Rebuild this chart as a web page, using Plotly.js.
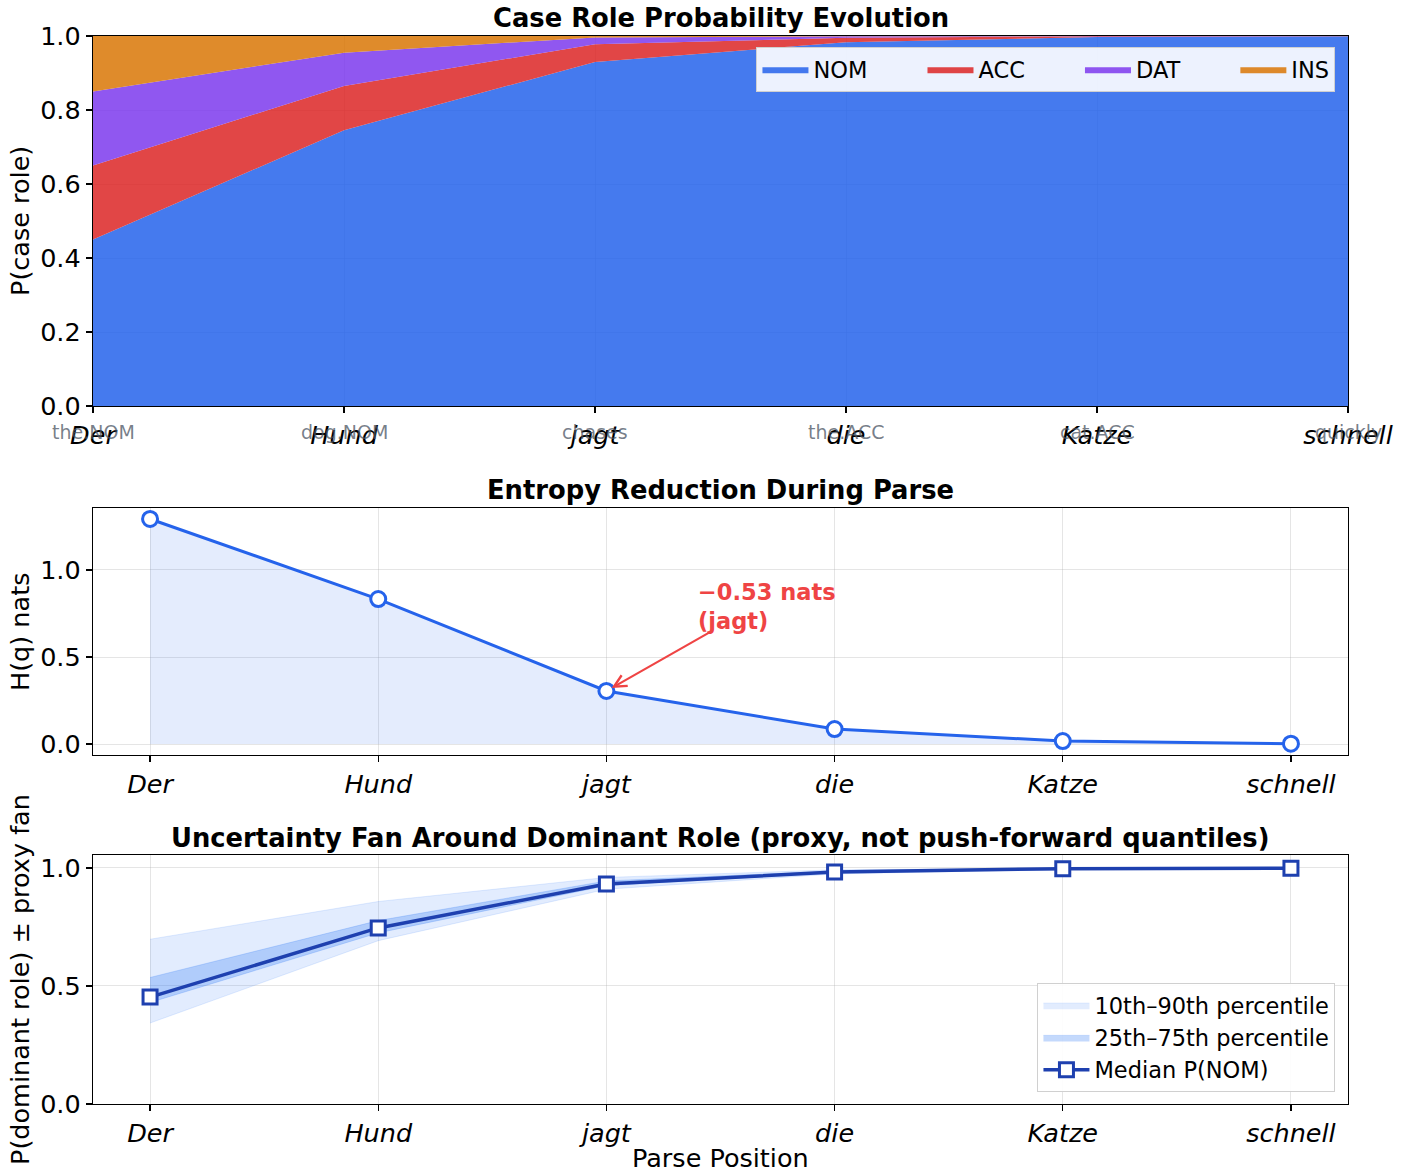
<!DOCTYPE html>
<html>
<head>
<meta charset="utf-8">
<script src="https://cdn.plot.ly/plotly-3.0.1.min.js"></script>
<style>html,body{margin:0;padding:0;background:#fff;}#chart{width:1413px;height:1173px;}</style>
</head>
<body>
<div id="chart"></div>
<script>
// ---- data ----
const words = ["Der", "Hund", "jagt", "die", "Katze", "schnell"];
const glosses = ["the.NOM", "dog.NOM", "chases", "the.ACC", "cat.ACC", "quickly"];
const positions = [0, 1, 2, 3, 4, 5];
const roles = ["NOM", "ACC", "DAT", "INS"];

const pNOM = [0.45, 0.745, 0.93, 0.983, 0.997, 0.999];
const pACC = [0.20, 0.12, 0.048, 0.012, 0.002, 0.0007];
const pDAT = [0.20, 0.09, 0.018, 0.004, 0.0008, 0.0002];
const pINS = [0.15, 0.045, 0.004, 0.001, 0.0002, 0.0001];

const entropy = [1.293, 0.833, 0.305, 0.086, 0.017, 0.002];

const fanMedian = [0.453, 0.746, 0.932, 0.983, 0.997, 0.999];
const fanP10 = [0.343, 0.692, 0.910, 0.975, 0.994, 0.998];
const fanP25 = [0.430, 0.725, 0.925, 0.980, 0.996, 0.9985];
const fanP75 = [0.536, 0.777, 0.945, 0.987, 0.998, 0.9995];
const fanP90 = [0.698, 0.858, 0.960, 0.992, 0.999, 1.0];

const annText = "−0.53 nats<br>(jagt)";

// ---- style ----
const FONT = "DejaVu Sans";
const TICK = 25.5;
const italicWords = words.map(w => "<i>" + w + "</i>");
const gridTop = "rgba(205,205,205,0.55)";
const grid = "rgba(176,176,176,0.33)";
const roleFill = ["rgba(37,99,235,0.85)", "rgba(220,38,38,0.85)", "rgba(124,58,237,0.85)", "rgba(217,119,6,0.85)"];
const roleVals = [pNOM, pACC, pDAT, pINS];
const colPad = "\u00a0".repeat(7); // legend column spacing

const traces = [];
roles.forEach((r, i) => traces.push({x: positions, y: roleVals[i],
  name: i < roles.length - 1 ? r + colPad : r, type: "scatter", mode: "lines",
  stackgroup: "one", line: {width: 0}, fillcolor: roleFill[i], xaxis: "x", yaxis: "y", legend: "legend"}));

traces.push(
  {x: positions, y: entropy, name: "H", type: "scatter", mode: "lines+markers", fill: "tozeroy",
   fillcolor: "rgba(37,99,235,0.12)", line: {color: "#2563eb", width: 3},
   marker: {symbol: "circle", size: 15, color: "#ffffff", line: {color: "#2563eb", width: 3}},
   xaxis: "x2", yaxis: "y2", showlegend: false},

  {x: positions, y: fanP10, type: "scatter", mode: "lines", line: {width: 0.8, color: "rgba(59,130,246,0.18)"},
   xaxis: "x3", yaxis: "y3", showlegend: false, hoverinfo: "skip"},
  {x: positions, y: fanP90, name: "10th–90th percentile", type: "scatter", mode: "lines", fill: "tonexty",
   fillcolor: "rgba(59,130,246,0.15)", line: {width: 0.8, color: "rgba(59,130,246,0.18)"},
   xaxis: "x3", yaxis: "y3", legend: "legend2"},
  {x: positions, y: fanP25, type: "scatter", mode: "lines", line: {width: 0.8, color: "rgba(59,130,246,0.3)"},
   xaxis: "x3", yaxis: "y3", showlegend: false, hoverinfo: "skip"},
  {x: positions, y: fanP75, name: "25th–75th percentile", type: "scatter", mode: "lines", fill: "tonexty",
   fillcolor: "rgba(59,130,246,0.3)", line: {width: 0.8, color: "rgba(59,130,246,0.3)"},
   xaxis: "x3", yaxis: "y3", legend: "legend2"},
  {x: positions, y: fanMedian, name: "Median P(NOM)", type: "scatter", mode: "lines+markers",
   line: {color: "#1e40af", width: 3.5},
   marker: {symbol: "square", size: 14, color: "#ffffff", line: {color: "#1e40af", width: 3}},
   xaxis: "x3", yaxis: "y3", legend: "legend2"}
);

const H = 1173;
function dom(top, bottom) { return [1 - bottom / H, 1 - top / H]; }

const axisCommon = {
  showline: true, mirror: true, linecolor: "#000", linewidth: 1.2,
  ticks: "outside", ticklen: 6, tickwidth: 1.2, tickcolor: "#000",
  tickfont: {family: FONT, size: TICK, color: "#000"}, zeroline: false
};

const annotations = [];
// titles
const titles = [["Case Role Probability Evolution", 18],
                ["Entropy Reduction During Parse", 490],
                ["Uncertainty Fan Around Dominant Role (proxy, not push-forward quantiles)", 838]];
titles.forEach(([t, yc]) => annotations.push({text: "<b>" + t + "</b>", xref: "paper", yref: "paper",
  x: 0.5, y: 1 - yc / H, xanchor: "center", yanchor: "middle", showarrow: false,
  font: {family: FONT, size: 25.8, color: "#000"}}));
// y axis titles
const ytitles = [["P(case role)", 221], ["H(q) nats", 632], ["P(dominant role) ± proxy fan", 980]];
ytitles.forEach(([t, yc]) => annotations.push({text: t, xref: "paper", yref: "paper",
  x: (20 - 93) / 1255, y: 1 - yc / H, xanchor: "center", yanchor: "middle", textangle: -90,
  showarrow: false, font: {family: FONT, size: 25.5, color: "#000"}}));
annotations.push({text: "Parse Position", xref: "paper", yref: "paper", x: 0.5, y: 1 - 1158 / H,
  xanchor: "center", yanchor: "middle", showarrow: false, font: {family: FONT, size: 25.5, color: "#000"}});
// glosses
positions.forEach((p, i) => annotations.push({text: glosses[i], xref: "x", yref: "paper", x: p,
  y: 1 - 432 / H, xanchor: "center", yanchor: "middle", showarrow: false,
  font: {family: FONT, size: 19, color: "rgba(75,85,99,0.75)"}}));
// entropy annotation
annotations.push({text: "", xref: "x2", yref: "y2", x: positions[2], y: entropy[2],
  axref: "x2", ayref: "y2", ax: 2.47, ay: 0.655, showarrow: true, arrowhead: 5, arrowsize: 1.1,
  arrowwidth: 2.2, arrowcolor: "#ef4444", standoff: 6});
annotations.push({text: "<b>" + annText + "</b>", xref: "x2", yref: "y2", x: 2.393, y: 0.622,
  xanchor: "left", yanchor: "bottom", align: "left", showarrow: false,
  font: {family: FONT, size: 22.5, color: "#ef4444"}});

const layout = {
  width: 1413, height: 1173,
  margin: {l: 93, r: 65, t: 0, b: 0},
  paper_bgcolor: "#fff", plot_bgcolor: "#fff",
  font: {family: FONT, size: 22, color: "#000"},
  xaxis: Object.assign({}, axisCommon, {domain: [0, 1], range: [0, 5], tickvals: positions, ticktext: italicWords,
    showgrid: true, gridcolor: gridTop, layer: "above traces", anchor: "y"}),
  yaxis: Object.assign({}, axisCommon, {domain: dom(36, 406), range: [0, 1], tickvals: [0, 0.2, 0.4, 0.6, 0.8, 1.0],
    tickformat: ".1f", showgrid: true, gridcolor: gridTop, layer: "above traces", anchor: "x"}),
  xaxis2: Object.assign({}, axisCommon, {domain: [0, 1], range: [-0.25, 5.25], tickvals: positions, ticktext: italicWords,
    showgrid: true, gridcolor: grid, anchor: "y2"}),
  yaxis2: Object.assign({}, axisCommon, {domain: dom(508, 755), range: [-0.063, 1.356], tickvals: [0, 0.5, 1.0],
    tickformat: ".1f", showgrid: true, gridcolor: grid, anchor: "x2"}),
  xaxis3: Object.assign({}, axisCommon, {domain: [0, 1], range: [-0.25, 5.25], tickvals: positions, ticktext: italicWords,
    showgrid: true, gridcolor: grid, anchor: "y3"}),
  yaxis3: Object.assign({}, axisCommon, {domain: dom(855, 1104), range: [0, 1.055], tickvals: [0, 0.5, 1.0],
    tickformat: ".1f", showgrid: true, gridcolor: grid, anchor: "x3"}),
  legend: {orientation: "h", x: 0.990, y: 1 - 47 / H, xanchor: "right", yanchor: "top",
    bgcolor: "rgba(255,255,255,0.9)", bordercolor: "#d0d0d0", borderwidth: 1, itemwidth: 46,
    font: {family: FONT, size: 22.5, color: "#000"}, traceorder: "normal"},
  legend2: {x: 0.990, y: 1 - 1092 / H, xanchor: "right", yanchor: "bottom",
    bgcolor: "rgba(255,255,255,0.9)", bordercolor: "#d0d0d0", borderwidth: 1, itemwidth: 46,
    font: {family: FONT, size: 22.5, color: "#000"}, traceorder: "normal"},
  annotations: annotations,
  showlegend: true
};

Plotly.newPlot("chart", traces, layout, {displayModeBar: false, staticPlot: true});
</script>
</body>
</html>
